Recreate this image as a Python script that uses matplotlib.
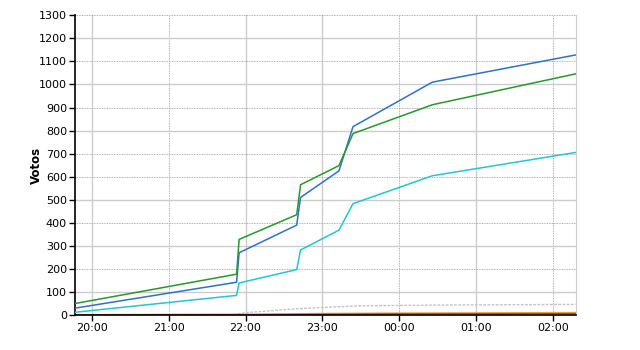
import matplotlib
matplotlib.use("Agg")
import matplotlib.pyplot as plt
import matplotlib.dates as mdates
from datetime import datetime

plt.rcParams['font.family'] = ['DejaVu Sans']

times = ["2000-01-01 19:47", "2000-01-01 21:53", "2000-01-01 21:55", "2000-01-01 22:40",
         "2000-01-01 22:43", "2000-01-01 23:13", "2000-01-01 23:24", "2000-01-02 00:26",
         "2000-01-02 02:18"]
blue = [30, 142, 270, 390, 510, 625, 817, 1010, 1128]
green = [50, 177, 328, 435, 565, 648, 787, 912, 1046]
cyan = [12, 85, 139, 197, 282, 368, 483, 604, 705]

gray_times = ["2000-01-01 19:47", "2000-01-01 21:50", "2000-01-01 22:00", "2000-01-01 22:40",
              "2000-01-01 23:10", "2000-01-01 23:30", "2000-01-02 00:30", "2000-01-02 02:18"]
gray = [1, 2, 10, 27, 35, 40, 43, 46]

low_times = ["2000-01-01 19:47", "2000-01-01 22:00", "2000-01-01 23:00", "2000-01-02 00:00",
             "2000-01-02 02:18"]
orange = [0, 2, 5, 7, 9]
red = [0, 1, 3, 5, 6]

yticks = list(range(0, 1301, 100))
xtick_times = ["2000-01-01 20:00", "2000-01-01 21:00", "2000-01-01 22:00", "2000-01-01 23:00",
               "2000-01-02 00:00", "2000-01-02 01:00", "2000-01-02 02:00"]
ydotted = [200, 400, 600, 700, 900, 1100, 1300]
xdotted = ["2000-01-01 21:00", "2000-01-02 00:00", "2000-01-02 02:00"]

P = lambda L: [datetime.strptime(s, "%Y-%m-%d %H:%M") for s in L]

fig = plt.figure(figsize=(6.4, 3.5), dpi=100)
ax = fig.add_axes([0.1177, 0.1, 0.7818, 0.8563])

xt = P(xtick_times)
xd = P(xdotted)
for t in xt:
    if t in xd:
        ax.axvline(t, color='#999999', lw=0.6, ls=(0, (1, 1)), zorder=1)
    else:
        ax.axvline(t, color='#cccccc', lw=1.0, zorder=1)
for v in yticks[1:]:
    if v in ydotted:
        ax.axhline(v, color='#999999', lw=0.6, ls=(0, (1, 1)), zorder=1)
    else:
        ax.axhline(v, color='#cccccc', lw=1.0, zorder=1)

ax.plot(P(gray_times), gray, color='#c4c4c4', lw=1.0, ls=(0, (2, 1)), zorder=2)
ax.plot(P(low_times), orange, color='#f5a030', lw=1.5, zorder=2)
ax.plot(P(low_times), red, color='#e03020', lw=1.0, zorder=2)
ax.plot(P(times), cyan, color='#22c8cc', lw=1.1, zorder=3)
ax.plot(P(times), blue, color='#2f72c4', lw=1.1, zorder=3)
ax.plot(P(times), green, color='#2a9630', lw=1.1, zorder=3)

ax.set_xlim(P(["2000-01-01 19:47"])[0], P(["2000-01-02 02:18"])[0])
ax.set_ylim(0, 1300)
ax.set_yticks(yticks)
ax.set_xticks(xt)
ax.xaxis.set_major_formatter(mdates.DateFormatter('%H:%M'))
ax.tick_params(labelsize=8, length=4, width=1, color='black', pad=2)
ax.spines['top'].set_visible(False)
ax.spines['right'].set_color('#cccccc')
ax.spines['left'].set_linewidth(1.2)
ax.spines['bottom'].set_linewidth(1.2)
ax.set_ylabel('Votos', fontsize=8.5, fontweight='bold', labelpad=-3)

fig.savefig('out.png', dpi=100)
